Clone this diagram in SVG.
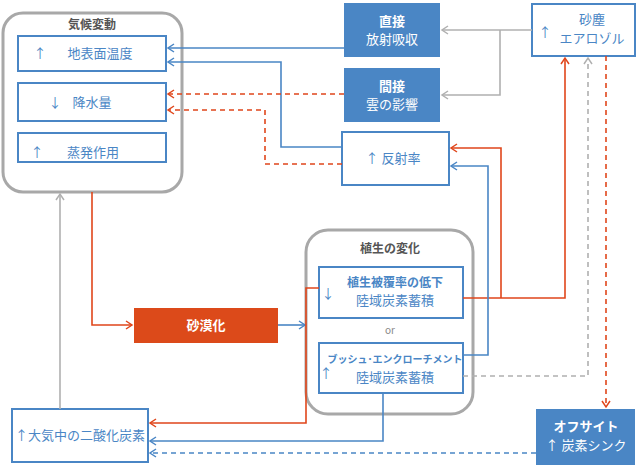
<svg xmlns="http://www.w3.org/2000/svg" width="640" height="467" viewBox="0 0 640 467">
<style>
text{font-family:"Noto Sans CJK JP","Noto Sans",sans-serif;text-anchor:middle}
.grp{fill:#fff;stroke:#a8a8a8;stroke-width:3}
.wb{fill:#fff;stroke:#4a86c5;stroke-width:2}
.bb{fill:#4a86c5}
.t{fill:#4a86c5;font-size:13px}
.tb{fill:#4a86c5;font-size:12px;font-weight:bold}
.w{fill:#fff;font-size:13px}
.wbld{fill:#fff;font-size:13px;font-weight:bold}
.gt{fill:#555;font-size:12px;font-weight:bold}
.c{fill:none;stroke-width:1.6}
.bl{stroke:#4a86c5}.rd{stroke:#e0461b}.gy{stroke:#b0b0b0}
.d{stroke-dasharray:5,4}
</style>
<defs>
<marker id="ab" markerWidth="10" markerHeight="10" refX="7" refY="5" orient="auto" markerUnits="userSpaceOnUse"><path d="M1,1 L7,5 L1,9" fill="none" stroke="#4a86c5" stroke-width="1.5"/></marker>
<marker id="ar" markerWidth="10" markerHeight="10" refX="7" refY="5" orient="auto" markerUnits="userSpaceOnUse"><path d="M1,1 L7,5 L1,9" fill="none" stroke="#e0461b" stroke-width="1.5"/></marker>
<marker id="ag" markerWidth="10" markerHeight="10" refX="7" refY="5" orient="auto" markerUnits="userSpaceOnUse"><path d="M1,1 L7,5 L1,9" fill="none" stroke="#b0b0b0" stroke-width="1.5"/></marker>
</defs>
<g id="climate">
<rect class="grp" x="3" y="13" width="179" height="179" rx="20"/>
<text class="gt" x="92" y="29">気候変動</text>
</g>
<g id="temp"><rect class="wb" x="18" y="36" width="148" height="35"/><text class="t" x="40" y="58">↑</text><text class="t" x="100" y="58">地表面温度</text></g>
<g id="rain"><rect class="wb" x="18" y="83" width="148" height="38"/><text class="t" x="55" y="107">↓</text><text class="t" x="92" y="107">降水量</text></g>
<g id="evap"><rect class="wb" x="18" y="133" width="148" height="29"/><text class="t" x="37" y="157">↑</text><text class="t" x="93" y="157">蒸発作用</text></g>
<g id="direct"><rect class="bb" x="344" y="3" width="96" height="54"/><text class="wbld" x="392" y="26">直接</text><text class="w" x="392" y="44">放射吸収</text></g>
<g id="indirect"><rect class="bb" x="344" y="68" width="96" height="54"/><text class="wbld" x="392" y="91">間接</text><text class="w" x="392" y="109">雲の影響</text></g>
<g id="albedo"><rect class="wb" x="342" y="132" width="107" height="53"/><text class="t" x="393" y="163">↑ 反射率</text></g>
<g id="dust"><rect class="wb" x="532" y="4" width="103" height="52"/><text class="t" x="545" y="37">↑</text><text class="t" x="592" y="24">砂塵</text><text class="t" x="592" y="43">エアロゾル</text></g>
<g id="veg">
<rect class="grp" x="306" y="230" width="167" height="184" rx="22"/>
<text class="gt" x="390" y="253">植生の変化</text>
</g>
<g id="cover"><rect class="wb" x="319" y="267" width="144" height="51"/><text class="t" x="328" y="298">↓</text><text class="tb" x="395" y="287">植生被覆率の低下</text><text class="t" x="395" y="305">陸域炭素蓄積</text></g>
<text x="390" y="334" style="fill:#888;font-size:10px">or</text>
<g id="bush"><rect class="wb" x="319" y="343" width="144" height="50"/><text class="t" x="326" y="378">↑</text><text class="tb" x="395" y="363" style="font-size:10px">ブッシュ･エンクローチメント</text><text class="t" x="395" y="382">陸域炭素蓄積</text></g>
<g id="desert"><rect x="134" y="308" width="144" height="35" fill="#dc4a1a"/><text class="wbld" x="206" y="330">砂漠化</text></g>
<g id="co2"><rect class="wb" x="12" y="409" width="136" height="53"/><text class="t" x="80" y="440">↑大気中の二酸化炭素</text></g>
<g id="offsite"><rect class="bb" x="536" y="409" width="99" height="56"/><text class="wbld" x="586" y="431">オフサイト</text><text class="w" x="586" y="450">↑ 炭素シンク</text></g>
<g id="connectors">
<path class="c bl" d="M344,48 H168" marker-end="url(#ab)"/>
<path class="c bl" d="M342,147 H281 V62 H168" marker-end="url(#ab)"/>
<path class="c rd d" d="M344,94 H168" marker-end="url(#ar)"/>
<path class="c rd d" d="M342,164 H265 V110 H168" marker-end="url(#ar)"/>
<path class="c gy" d="M532,30 H442" marker-end="url(#ag)"/>
<path class="c gy" d="M500,30 V95 H442" marker-end="url(#ag)"/>
<path class="c rd" d="M463,298 H565 V58" marker-end="url(#ar)"/>
<path class="c rd" d="M501,298 V148 H451" marker-end="url(#ar)"/>
<path class="c bl" d="M463,355 H488 V166 H451" marker-end="url(#ab)"/>
<path class="c gy d" d="M463,376 H588 V58" marker-end="url(#ag)"/>
<path class="c rd d" d="M606,56 V407" marker-end="url(#ar)"/>
<path class="c gy" d="M60,409 V194" marker-end="url(#ag)"/>
<path class="c rd" d="M92,192 V325 H132" marker-end="url(#ar)"/>
<path class="c bl" d="M278,325 H305" marker-end="url(#ab)"/>
<path class="c rd" d="M319,288 H306 V423 H150" marker-end="url(#ar)"/>
<path class="c bl" d="M383,393 V441 H150" marker-end="url(#ab)"/>
<path class="c bl d" d="M536,453 H150" marker-end="url(#ab)"/>
</g>
</svg>
